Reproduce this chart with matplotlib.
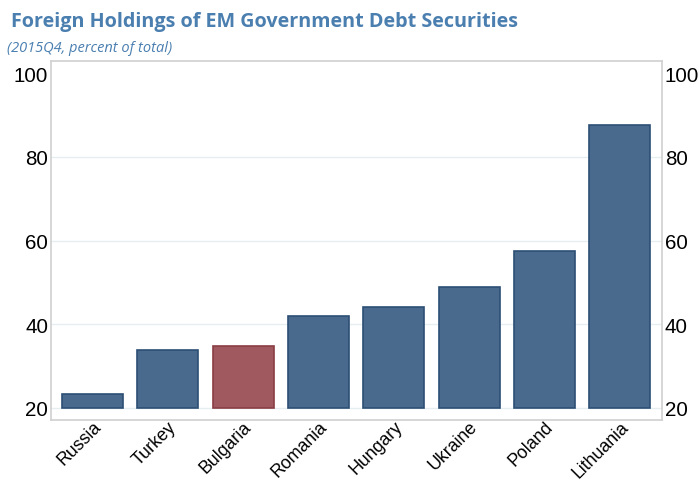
import matplotlib
matplotlib.use('Agg')
import matplotlib.pyplot as plt

countries = ['Russia', 'Turkey', 'Bulgaria', 'Romania', 'Hungary', 'Ukraine', 'Poland', 'Lithuania']
values = [23.3, 33.8, 34.7, 42.0, 44.1, 48.8, 57.4, 87.7]
highlight = 'Bulgaria'
yticks = [20, 40, 60, 80, 100]
gridlines = [20, 40, 60, 80]

blue = '#496a8c'
blue_edge = '#2d4f75'
red = '#a05a5f'
red_edge = '#8a3d44'

fig = plt.figure(figsize=(6.99, 4.81), dpi=100)
ax = fig.add_axes([51 / 699, 1 - 421 / 481, 611 / 699, 359 / 481])

base = 20
colors = [red if c == highlight else blue for c in countries]
edges = [red_edge if c == highlight else blue_edge for c in countries]
ax.bar(range(len(countries)), [v - base for v in values], bottom=base,
       width=0.81, color=colors, edgecolor=edges, linewidth=1.2, zorder=3)

for g in gridlines:
    ax.axhline(g, color='#e6eef0', linewidth=1, zorder=0)

ax.set_xlim(-0.55, len(countries) - 1 + 0.56)
ax.set_ylim(17.1, 102.9)
ax.set_yticks(yticks)
ax.tick_params(axis='y', length=0, labelsize=14.8, labelright=True, right=False, pad=2)
ax.tick_params(axis='x', length=0, labelsize=12.8, pad=-1.5)
ax.set_xticks(range(len(countries)))
ax.set_xticklabels(countries, rotation=45, ha='right', rotation_mode='anchor')
for lbl in ax.get_xticklabels():
    lbl.set_family('Liberation Sans')
for t in ax.yaxis.get_major_ticks():
    t.label1.set_family('Liberation Sans')
    t.label2.set_family('Liberation Sans')
for sp in ax.spines.values():
    sp.set_color('#d0d0d0')
    sp.set_linewidth(1.2)

fig.text(11 / 699, 1 - 22 / 481, 'Foreign Holdings of EM Government Debt Securities',
         fontsize=14.2, fontweight='bold', color='#4a7fb0', family='Open Sans', va='center')
fig.text(7 / 699, 1 - 49 / 481, '(2015Q4, percent of total)',
         fontsize=10.5, style='italic', color='#4a7fb0', family='Open Sans', va='center')

fig.savefig('out.png', dpi=100)
